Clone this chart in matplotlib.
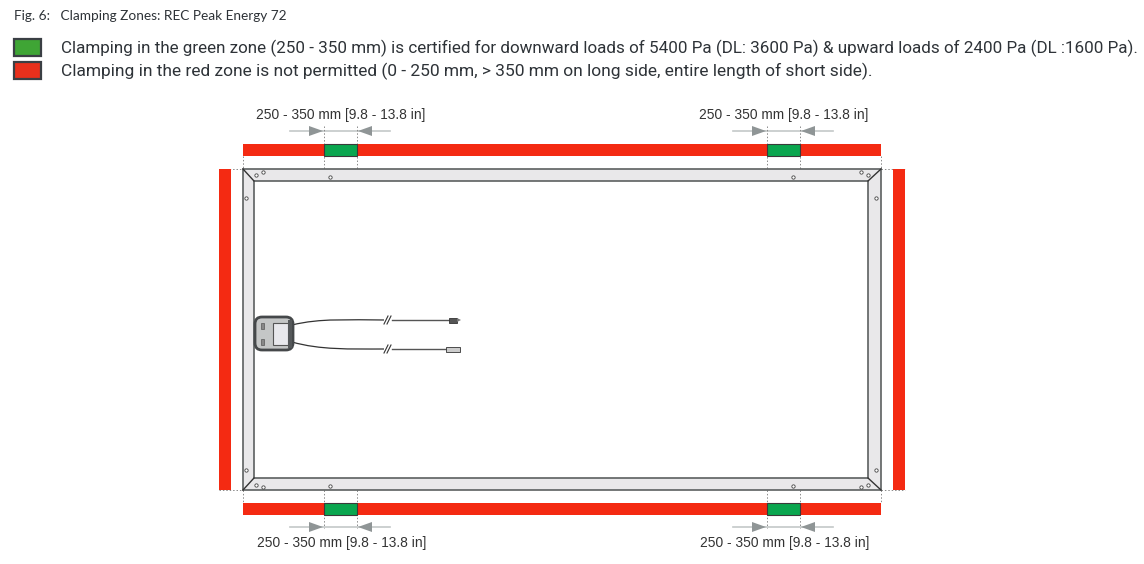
import matplotlib
matplotlib.use("Agg")
import matplotlib.pyplot as plt
from matplotlib.patches import Rectangle, FancyBboxPatch, Polygon
from matplotlib.path import Path as MPath
from matplotlib.patches import PathPatch

RED = "#f42a12"
GREEN = "#0aa64f"
DARK = "#3a3a3a"
GREY = "#8f9596"

title = "Fig. 6:   Clamping Zones: REC Peak Energy 72"
legend_labels = [
    "Clamping in the green zone (250 - 350 mm) is certified for downward loads of 5400 Pa (DL: 3600 Pa) & upward loads of 2400 Pa (DL :1600 Pa).",
    "Clamping in the red zone is not permitted (0 - 250 mm, > 350 mm on long side, entire length of short side).",
]
legend_widths = [1075, 812]
legend_colors = ["#3fa535", "#e8301c"]
dim_label = "250 - 350 mm [9.8 - 13.8 in]"

# horizontal strips: y top, x start, x end
top_strip = (144, 243, 881)
bottom_strip = (503, 243, 881)
strip_h = 12
top_green = [(324, 357), (767, 800)]
bottom_green = [(324, 357), (767, 800)]
left_strip = (219, 169, 490)
right_strip = (893, 169, 490)
strip_w = 12

# frame outer and inner corners
outer = (243, 169, 881, 490)
inner = (254, 181, 868, 478)

# small holes on the frame
holes = [(330, 177), (793, 177), (330, 486), (793, 486), (263, 172), (861, 172), (263, 487), (861, 487),
         (256, 175), (868, 175), (256, 485), (868, 485), (246, 198), (876, 198), (246, 470), (876, 470)]


def dim_arrows(ax, x0, x1, y):
    ax.plot([x0 - 34, x1 + 33], [y, y], color="#c4c8c8", lw=1.2, zorder=1)
    ax.add_patch(Polygon([(x0 - 15, y - 5), (x0 - 1, y), (x0 - 15, y + 5)], fc=GREY, ec="none", zorder=2))
    ax.add_patch(Polygon([(x1 + 15, y - 5), (x1 + 1, y), (x1 + 15, y + 5)], fc=GREY, ec="none", zorder=2))


def guide(ax, xs, ys):
    ax.plot(xs, ys, color="#8a8a8a", lw=0.7, ls=(0, (1.5, 2)), zorder=1)


fig = plt.figure(figsize=(11.44, 5.64), dpi=100)
ax = fig.add_axes([0, 0, 1, 1])
ax.set_xlim(0, 1144)
ax.set_ylim(564, 0)
ax.axis("off")

ax.text(14, 15.5, title, fontsize=9.85, family="Lato", color="#2e3338", va="center")

renderer = fig.canvas.get_renderer()
for i, (lab, col, w) in enumerate(zip(legend_labels, legend_colors, legend_widths)):
    y = 39 + 23 * i
    ax.add_patch(Rectangle((14, y), 27, 17, fc=col, ec="#3a3f44", lw=1.6))
    t = ax.text(61, y + 9.5, lab, fontsize=13, family="Roboto", color="#2e3338", va="center")
    # squeeze each line to the width it has in the picture
    t.set_fontsize(13 * w / t.get_window_extent(renderer).width)

# top / bottom strips
for (y, x0, x1), greens in ((top_strip, top_green), (bottom_strip, bottom_green)):
    ax.add_patch(Rectangle((x0, y), x1 - x0, strip_h, fc=RED, ec="none", zorder=2))
    for g0, g1 in greens:
        ax.add_patch(Rectangle((g0, y), g1 - g0, strip_h, fc=GREEN, ec=DARK, lw=0.8, zorder=3))

# side strips
for x, y0, y1 in (left_strip, right_strip):
    ax.add_patch(Rectangle((x, y0), strip_w, y1 - y0, fc=RED, ec="none", zorder=2))

# frame
ox0, oy0, ox1, oy1 = outer
ix0, iy0, ix1, iy1 = inner
ax.add_patch(Rectangle((ox0, oy0), ox1 - ox0, oy1 - oy0, fc="#e9e8ea", ec="#5c6060", lw=1.2, zorder=2))
ax.add_patch(Rectangle((ix0, iy0), ix1 - ix0, iy1 - iy0, fc="white", ec="#5c6060", lw=1.2, zorder=3))
for (a, b), (c, d) in (((ox0, oy0), (ix0, iy0)), ((ox1, oy0), (ix1, iy0)), ((ox0, oy1), (ix0, iy1)), ((ox1, oy1), (ix1, iy1))):
    ax.plot([a, c], [b, d], color="#333333", lw=1, zorder=3)
for hx, hy in holes:
    ax.plot(hx, hy, "o", ms=2.4, mfc="white", mec="#444444", mew=0.6, zorder=4)

# dimension arrows and guide lines
for g0, g1 in top_green:
    dim_arrows(ax, g0, g1, 131)
    guide(ax, [g0, g0], [126, 169])
    guide(ax, [g1, g1], [126, 169])
    ax.text((g0 + g1) / 2 + 0.5, 114.5, dim_label, fontsize=9.95, family="Liberation Sans", color="#333333", ha="center", va="center")
for g0, g1 in bottom_green:
    dim_arrows(ax, g0, g1, 527)
    guide(ax, [g0, g0], [490, 528])
    guide(ax, [g1, g1], [490, 528])
    ax.text((g0 + g1) / 2 + 1.5, 543.5, dim_label, fontsize=9.95, family="Liberation Sans", color="#333333", ha="center", va="center")
guide(ax, [243, 243], [156, 169])
guide(ax, [881, 881], [156, 169])
guide(ax, [243, 243], [490, 503])
guide(ax, [881, 881], [490, 503])
guide(ax, [219, 243], [169, 169])
guide(ax, [881, 905], [169, 169])
guide(ax, [219, 243], [490, 490])
guide(ax, [881, 905], [490, 490])

# junction box
ax.add_patch(FancyBboxPatch((255, 317), 38, 33, boxstyle="round,pad=0,rounding_size=7", fc="#c4c6c6", ec="#45484a", lw=2.0, zorder=5))
ax.add_patch(Rectangle((273, 323), 15, 22, fc="#e8e8ec", ec="#555555", lw=0.8, zorder=6))
ax.add_patch(Rectangle((288, 320), 4, 28, fc="#55585a", ec="none", zorder=6))
ax.add_patch(Rectangle((261, 323), 2.5, 6, fc="#888888", ec="#444444", lw=0.4, zorder=6))
ax.add_patch(Rectangle((261, 339), 2.5, 6, fc="#888888", ec="#444444", lw=0.4, zorder=6))

# cables
cable1 = MPath([(292, 325), (320, 318), (350, 320), (384, 320)], [MPath.MOVETO, MPath.CURVE4, MPath.CURVE4, MPath.CURVE4])
cable2 = MPath([(292, 342), (320, 350), (350, 349), (384, 349)], [MPath.MOVETO, MPath.CURVE4, MPath.CURVE4, MPath.CURVE4])
for c in (cable1, cable2):
    ax.add_patch(PathPatch(c, fc="none", ec="#333333", lw=0.9, zorder=4))
for y, x1 in ((320, 449), (349, 446)):
    ax.plot([392, x1], [y, y], color="#555555", lw=1.0, zorder=4)
    for dx in (0, 3):
        ax.plot([384 + dx, 388 + dx], [y + 4, y - 4], color="#333333", lw=0.8, zorder=4)
ax.add_patch(Rectangle((449, 317.5), 8, 5, fc="#555555", ec="#333333", lw=0.6, zorder=4))
ax.add_patch(Polygon([(457, 318), (461, 320), (457, 322)], fc="#777777", ec="none", zorder=4))
ax.add_patch(Rectangle((446, 346.5), 14, 5, fc="#cccccc", ec="#333333", lw=0.6, zorder=4))

fig.savefig("out.png", dpi=100)
